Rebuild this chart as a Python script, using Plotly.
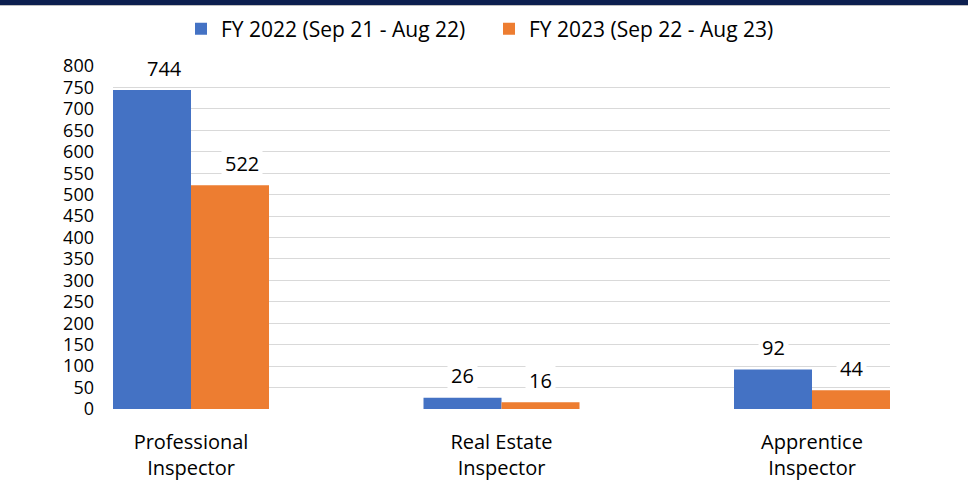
import plotly.graph_objects as go

categories = ["Professional<br>Inspector", "Real Estate<br>Inspector", "Apprentice<br>Inspector"]
series_names = ["FY 2022 (Sep 21 - Aug 22)", "FY 2023 (Sep 22 - Aug 23)"]
fy2022 = [744, 26, 92]
fy2023 = [522, 16, 44]
y_ticks = list(range(0, 801, 50))

colors = ["#4472C4", "#ED7D31"]
FONT = "Open Sans"
W, H = 968, 483
ML, MR, MT, MB = 113, 78, 66, 74
BARGAP = 0.4976
label_xshift = [12, 0, 0]

xs = list(range(len(categories)))
fig = go.Figure()
for name, vals, col in zip(series_names, [fy2022, fy2023], colors):
    fig.add_trace(go.Bar(x=xs, y=vals, name=name, marker=dict(color=col, line=dict(width=0))))

half = (1 - BARGAP) / 2
annotations = []
for s, vals in enumerate([fy2022, fy2023]):
    off = -half / 2 if s == 0 else half / 2
    for i, v in enumerate(vals):
        annotations.append(dict(
            x=i + off, y=v, xref="x", yref="y", text=str(v), showarrow=False,
            yanchor="middle", yshift=22, xshift=label_xshift[i],
            bgcolor="white", borderpad=3,
            font=dict(family=FONT, size=20, color="#000000"),
        ))

ph = H - MT - MB
pw = W - ML - MR
def py(p):
    return 1 + (MT - p) / ph

def px(p):
    return (p - ML) / pw

shapes = [
    dict(type="rect", xref="paper", yref="paper", x0=px(0), x1=px(W),
         y0=py(5), y1=py(-1), fillcolor="#0C1F4F", line=dict(width=0), layer="above"),
    dict(type="line", xref="paper", yref="paper", x0=px(0), x1=px(W),
         y0=py(5.5), y1=py(5.5), line=dict(color="#BFBFBF", width=1)),
]

fig.update_layout(
    width=W, height=H,
    margin=dict(l=ML, r=MR, t=MT, b=MB, autoexpand=False),
    paper_bgcolor="white", plot_bgcolor="white",
    barmode="group", bargap=BARGAP, bargroupgap=0,
    font=dict(family=FONT, size=20, color="#000000"),
    showlegend=True,
    legend=dict(orientation="h", x=px(181), xanchor="left", y=py(29), yanchor="middle",
                font=dict(family=FONT, size=21, color="#000000"), itemwidth=30,
                entrywidth=263, entrywidthmode="pixels",
                bgcolor="rgba(0,0,0,0)"),
    annotations=annotations,
    shapes=shapes,
    xaxis=dict(range=[-half, len(categories) - 1 + half], tickvals=xs, ticktext=categories,
               showgrid=False, zeroline=False, showline=False, ticks="", automargin=False,
               ticklabelstandoff=19, tickfont=dict(family=FONT, size=20, color="#000000")),
    yaxis=dict(range=[0, 800], tickvals=y_ticks, showgrid=True, gridcolor="#D9D9D9", gridwidth=1,
               zeroline=False, showline=False, ticks="", ticklabelstandoff=18, automargin=False,
               tickfont=dict(family=FONT, size=18, color="#000000")),
)

fig.write_html("out.html", config={"displayModeBar": False},
               post_script="document.body.style.margin='0';document.body.style.padding='0';")
